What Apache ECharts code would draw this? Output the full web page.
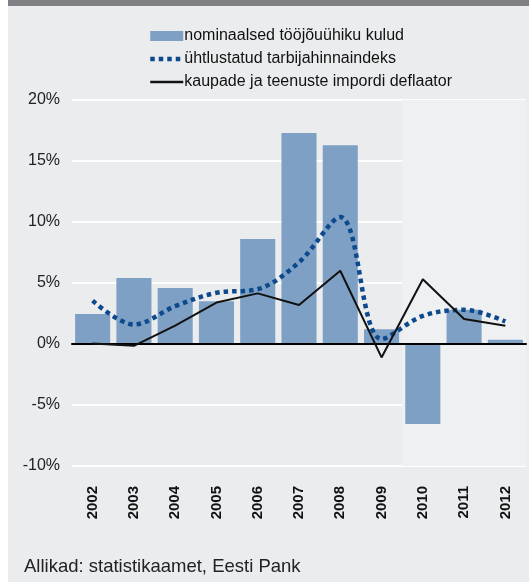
<!DOCTYPE html>
<html>
<head>
<meta charset="utf-8">
<script src="https://cdn.jsdelivr.net/npm/echarts@6/dist/echarts.min.js"></script>
<style>
  html, body { margin: 0; padding: 0; background: #fff; }
  #chart { width: 529px; height: 582px; }
</style>
</head>
<body>
<div id="chart"></div>
<script>
const years = ['2002', '2003', '2004', '2005', '2006', '2007', '2008', '2009', '2010', '2011', '2012'];
// nominaalsed tööjõuühiku kulud
const unitLaborCosts = [2.45, 5.4, 4.6, 3.5, 8.6, 17.3, 16.3, 1.2, -6.55, 2.8, 0.35];
// ühtlustatud tarbijahinnaindeks
const hicp = [3.55, 1.6, 3.1, 4.2, 4.5, 6.7, 10.4, 0.4, 2.3, 2.8, 1.85];
// kaupade ja teenuste impordi deflaator
const importDeflator = [0.05, -0.15, 1.5, 3.4, 4.15, 3.2, 6.0, -1.1, 5.3, 2.05, 1.5];
const shadedFrom = 8; // 2010 onwards
const font = 'Liberation Sans, Arial, Helvetica, sans-serif';
const dotted = { color: '#0c4a8d', width: 4.5, type: [4.5, 4] };

const chart = echarts.init(document.getElementById('chart'));
chart.setOption({
  animation: false,
  textStyle: { fontFamily: font },
  graphic: [
    { type: 'rect', left: 8, top: 0, z: -10, shape: { width: 521, height: 582 }, style: { fill: '#ebecee' } },
    { type: 'rect', left: 8, top: 0, z: -9, shape: { width: 521, height: 6 }, style: { fill: '#807f84' } },
    {
      type: 'text', left: 24, top: 557,
      style: { text: 'Allikad: statistikaamet, Eesti Pank', fill: '#222', font: '18.5px ' + font }
    }
  ],
  legend: {
    orient: 'vertical',
    left: 148,
    top: 28,
    padding: 0,
    itemWidth: 33,
    itemHeight: 10,
    itemGap: 7,
    textStyle: { fontSize: 16, lineHeight: 16, color: '#111', padding: [0, 0, 0, -4] },
    data: [
      { name: 'nominaalsed tööjõuühiku kulud', icon: 'rect' },
      { name: 'ühtlustatud tarbijahinnaindeks', itemStyle: { opacity: 0 }, lineStyle: dotted },
      { name: 'kaupade ja teenuste impordi deflaator', itemStyle: { opacity: 0 }, lineStyle: { color: '#111', width: 2.5 } }
    ]
  },
  grid: { left: 72, right: 3, top: 100, height: 366 },
  xAxis: [
    {
      type: 'category',
      data: years,
      z: 3,
      axisLine: { onZero: true, lineStyle: { color: '#000', width: 2 } },
      axisTick: { show: false },
      axisLabel: {
        rotate: 90,
        interval: 0,
        margin: 20,
        fontSize: 15,
        fontWeight: 'bold',
        color: '#111'
      }
    },
    { type: 'value', min: 0, max: years.length, show: false }
  ],
  yAxis: {
    type: 'value',
    min: -10,
    max: 20,
    interval: 5,
    z: 1,
    axisLine: { show: false },
    axisTick: { show: false },
    axisLabel: { formatter: '{value}%', fontSize: 16, color: '#222', margin: 12 },
    splitLine: { lineStyle: { color: '#ffffff', width: 2 } }
  },
  series: [
    {
      type: 'line',
      xAxisIndex: 1,
      data: [],
      silent: true,
      z: 0,
      markArea: {
        silent: true,
        itemStyle: { color: '#eff0f2' },
        data: [[{ xAxis: shadedFrom }, { xAxis: years.length }]]
      }
    },
    {
      name: 'nominaalsed tööjõuühiku kulud',
      type: 'bar',
      data: unitLaborCosts,
      barCategoryGap: '15%',
      z: 2,
      itemStyle: { color: '#7fa0c5' }
    },
    {
      name: 'ühtlustatud tarbijahinnaindeks',
      type: 'line',
      data: hicp,
      smooth: 0.35,
      symbol: 'none',
      z: 4,
      lineStyle: dotted,
      itemStyle: { color: '#0c4a8d' }
    },
    {
      name: 'kaupade ja teenuste impordi deflaator',
      type: 'line',
      data: importDeflator,
      symbol: 'none',
      z: 5,
      lineStyle: { color: '#111', width: 2 },
      itemStyle: { color: '#111' }
    }
  ]
});
</script>
</body>
</html>
